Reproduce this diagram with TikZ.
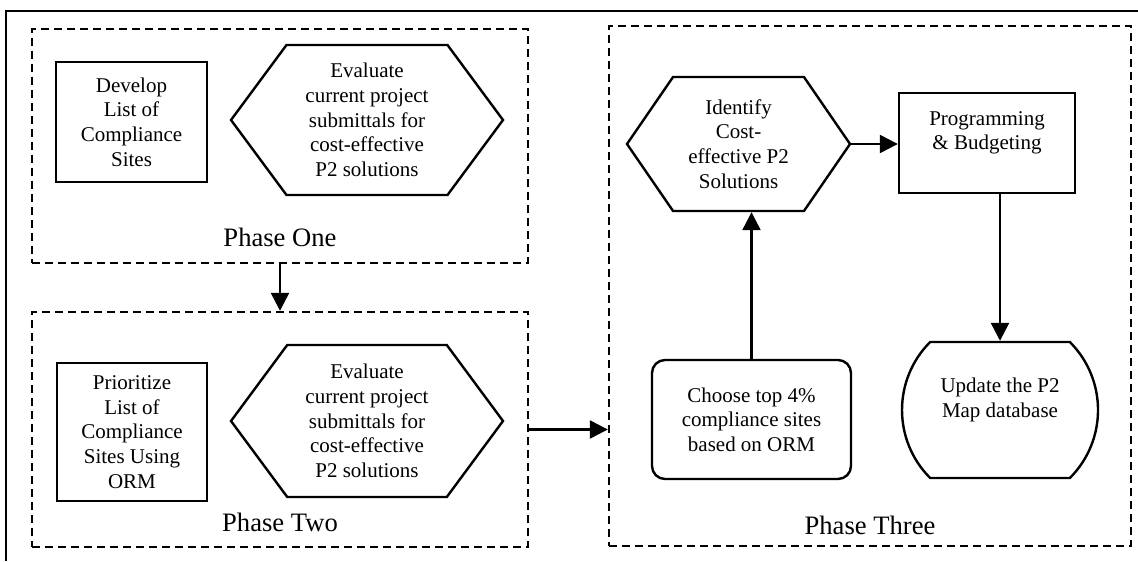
\documentclass[tikz,border=0pt]{standalone}
\usepackage{fontspec}
\setmainfont{Liberation Serif}
\usetikzlibrary{arrows.meta,shapes.symbols,shapes.misc}

\begin{document}
\begin{tikzpicture}[x=0.5pt,y=-0.5pt,line width=1.2pt,
main/.style = {draw, align=center, inner sep=1pt, font=\fontsize{10.5}{12.3}\selectfont},
hex/.style = {main, signal, signal to=west and east},
phase/.style = {draw, dash pattern=on 4pt off 2.5pt, line width=1.2pt},
tag/.style = {anchor=base, font=\fontsize{13.3}{15}\selectfont},
arr/.style = {-{Triangle[length=9pt,width=9pt]}}]
\useasboundingbox (0,0) rectangle (1138,561);
\draw[line width=1.4pt] (6,561) -- (6,11) -- (1138,11);
\node[phase, minimum width=248pt, minimum height=117pt] (p1) at (280,146) {};
\node[phase, minimum width=248pt, minimum height=117.5pt] (p2) at (280,429.5) {};
\node[phase, minimum width=261pt, minimum height=260pt] (p3) at (870,286) {};
\node[tag] (t1) at ([yshift=9pt]p1.south) {Phase One};
\node[tag] (t2) at ([yshift=8.5pt]p2.south) {Phase Two};
\node[tag] (t3) at ([yshift=6.5pt]p3.south) {Phase Three};
\node[main, minimum width=75.5pt, minimum height=60pt] (1) at (131.5,122) {Develop\\List of\\Compliance\\Sites};
\node[hex, signal pointer angle=107, minimum width=136pt, minimum height=75pt] (2) at (367,120) {Evaluate\\current project\\submittals for\\cost-effective\\P2 solutions};
\node[main, minimum width=75pt, minimum height=69pt] (3) at (132,432) {Prioritize\\List of\\Compliance\\Sites Using\\ORM};
\node[hex, signal pointer angle=107, minimum width=136pt, minimum height=76pt] (4) at (367,421) {Evaluate\\current project\\submittals for\\cost-effective\\P2 solutions};
\node[hex, signal pointer angle=111, minimum width=111.5pt, minimum height=67pt] (5) at (738.5,144) {Identify\\Cost-\\effective P2\\Solutions};
\node[main, minimum width=88pt, minimum height=50pt] (6) at (987,143) {Programming\\\& Budgeting\\\mbox{}};
\node[main, rounded corners=6.5pt, minimum width=99.5pt, minimum height=59.5pt] (7) at (751.5,419.5) {Choose top 4\%\\compliance sites\\based on ORM};
\node[main, rounded rectangle, rounded rectangle arc length=90, minimum width=100pt, minimum height=68pt] (8) at (1000,410) {Update the P2\\Map database\\\mbox{}};
\draw[arr] (p1) -- (p2);
\draw[arr] (p2.east) -- (p2.east -| p3.west);
\draw[arr] (5.east) -- (5.east -| 6.west);
\draw[arr] (7.north) -- (7.north |- 5.south);
\draw[arr] (6.south -| 8) -- (8.north);
\end{tikzpicture}
\end{document}
